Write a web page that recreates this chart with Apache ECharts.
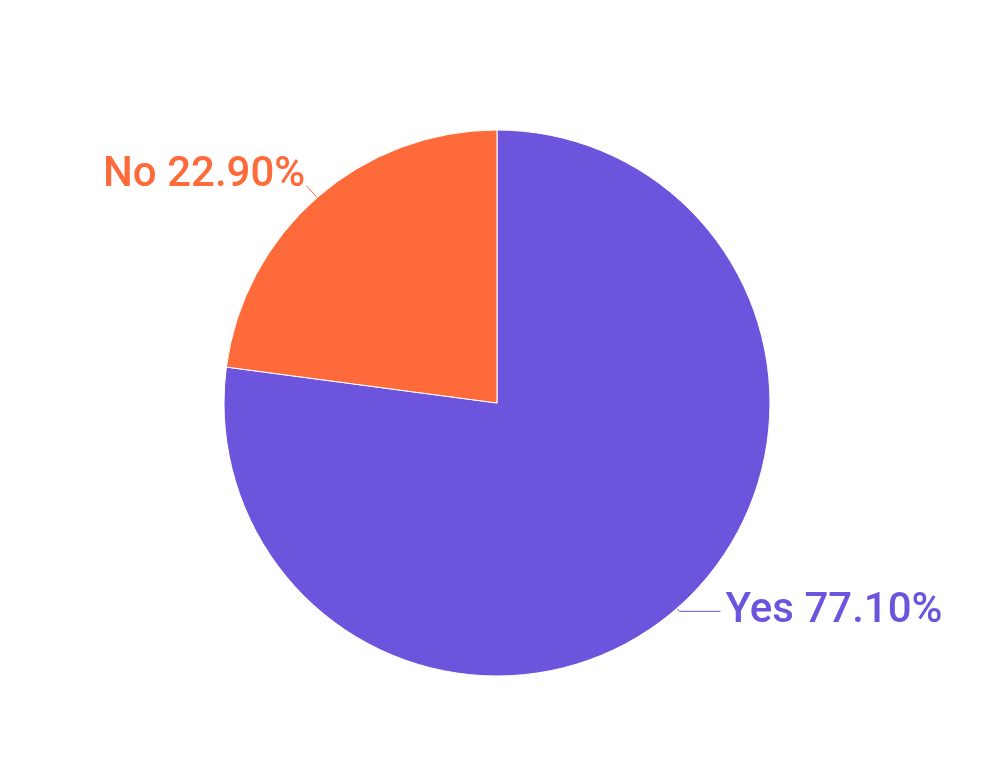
<!DOCTYPE html>
<html><head><meta charset="utf-8">
<script src="https://cdn.jsdelivr.net/npm/echarts@6/dist/echarts.min.js"></script>
<style>html,body{margin:0;padding:0;background:#fff}#c{width:1000px;height:759px}</style>
</head><body><div id="c"></div>
<script>
const categories = ['Yes', 'No'];
const values = [77.10, 22.90];
const colors = ['#6C55DC', '#FF6A3A'];

const chart = echarts.init(document.getElementById('c'), null, {renderer: 'canvas'});
const labelTweaks = [
  {label: {distanceToLabelLine: 5}, spacer: 0, labelLine: {length: 4, length2: 41}},
  {label: {distanceToLabelLine: 1}, spacer: 22, labelLine: {length: 15, length2: 1}}
];
chart.setOption({
  animation: false,
  backgroundColor: '#fff',
  series: [{
    type: 'pie',
    center: [497, 403],
    radius: [0, 273],
    startAngle: 90,
    clockwise: true,
    avoidLabelOverlap: false,
    data: categories.map((c, i) => ({
      name: c, value: values[i],
      itemStyle: {color: colors[i]},
      label: Object.assign({
        color: colors[i],
        formatter: p => '{t|' + p.name + ' ' + p.value.toFixed(2) + '%}' +
          (labelTweaks[i].spacer ? '\n{s|}' : ''),
        rich: {
          t: {color: colors[i], fontFamily: 'Roboto', fontSize: 42, fontWeight: 500},
          s: {height: labelTweaks[i].spacer, fontSize: 1}
        }
      }, labelTweaks[i].label),
      labelLine: Object.assign({lineStyle: {color: colors[i], width: 1}}, labelTweaks[i].labelLine)
    })),
    itemStyle: {borderColor: '#fff', borderWidth: 1},
    label: {
      show: true,
      fontFamily: 'Roboto',
      fontSize: 42,
      fontWeight: 500
    },
    labelLine: {show: true, lineStyle: {width: 1}}
  }]
});
</script></body></html>
